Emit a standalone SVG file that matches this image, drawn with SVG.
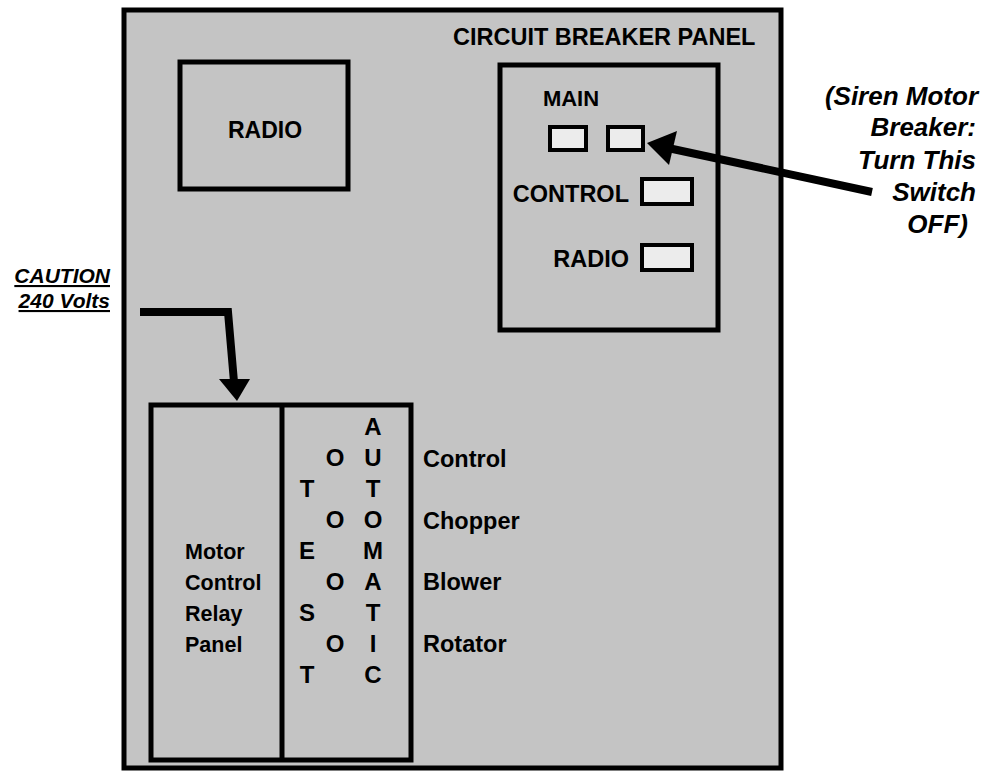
<svg xmlns="http://www.w3.org/2000/svg" width="987" height="778" viewBox="0 0 987 778">
<style>
.box{fill:#c4c4c4;stroke:#000;stroke-width:5}
.sw{fill:#ececec;stroke:#000;stroke-width:4}
.t{font-family:"Liberation Sans",Arial,sans-serif;font-weight:bold;fill:#000}
.bi{font-family:"Liberation Sans",Arial,sans-serif;font-weight:bold;font-style:italic;fill:#000}
.l{font-size:24px;text-anchor:middle}
.c{stroke:#000;fill:none;stroke-width:8}
</style>
<rect width="987" height="778" fill="#fff"/>
<g id="panel">
<rect x="124" y="10" width="657" height="758" class="box" stroke-width="6"/>
<text class="t" x="453" y="45" font-size="23.5">CIRCUIT BREAKER PANEL</text>
</g>
<g id="radio">
<rect x="180" y="62" width="168" height="127" class="box"/>
<text class="t" x="265" y="138" font-size="23" text-anchor="middle">RADIO</text>
</g>
<g id="breaker-panel">
<rect x="500" y="65" width="218" height="265" class="box"/>
<text class="t" x="571" y="106" font-size="22" text-anchor="middle">MAIN</text>
<rect x="550" y="127" width="36" height="23" class="sw"/>
<rect x="608" y="127" width="35" height="23" class="sw"/>
<text class="t" x="629" y="202" font-size="23.5" text-anchor="end">CONTROL</text>
<rect x="642" y="179" width="50" height="25" class="sw"/>
<text class="t" x="629" y="267" font-size="23.5" text-anchor="end">RADIO</text>
<rect x="642" y="245" width="50" height="25" class="sw"/>
</g>
<g id="siren-note" class="bi" font-size="26" text-anchor="end">
<text x="978" y="105">(Siren Motor</text>
<text x="976" y="136">Breaker:</text>
<text x="976" y="169">Turn This</text>
<text x="976" y="201">Switch</text>
<text x="968" y="233">OFF)</text>
</g>
<g id="caution" class="bi" font-size="21" text-anchor="end">
<text x="110" y="283" text-decoration="underline">CAUTION</text>
<text x="110" y="308" text-decoration="underline">240 Volts</text>
</g>
<g id="relay-panel">
<rect x="151" y="405" width="260" height="355" fill="#c4c4c4" stroke="#000" stroke-width="5"/>
<line x1="282" y1="405" x2="282" y2="760" stroke="#000" stroke-width="5"/>
<g class="t" font-size="21.5">
<text x="185" y="559">Motor</text>
<text x="185" y="590">Control</text>
<text x="185" y="621">Relay</text>
<text x="185" y="652">Panel</text>
</g>
<g class="t l">
<text x="307" y="497">T</text>
<text x="307" y="559">E</text>
<text x="307" y="621">S</text>
<text x="307" y="683">T</text>
<text x="335" y="466">O</text>
<text x="335" y="528">O</text>
<text x="335" y="590">O</text>
<text x="335" y="652">O</text>
<text x="373" y="435">A</text>
<text x="373" y="466">U</text>
<text x="373" y="497">T</text>
<text x="373" y="528">O</text>
<text x="373" y="559">M</text>
<text x="373" y="590">A</text>
<text x="373" y="621">T</text>
<text x="373" y="652">I</text>
<text x="373" y="683">C</text>
</g>
<g class="t" font-size="23.5">
<text x="423" y="467">Control</text>
<text x="423" y="529">Chopper</text>
<text x="423" y="590">Blower</text>
<text x="423" y="652">Rotator</text>
</g>
</g>
<g id="connectors">
<path class="c" d="M140,312 L228,312 L234,382"/>
<polygon points="219,379 250,379 237,401" fill="#000"/>
<line class="c" x1="872" y1="192" x2="668" y2="148" stroke-width="7"/>
<polygon points="647,143 677,131 669,165" fill="#000"/>
</g>
</svg>
